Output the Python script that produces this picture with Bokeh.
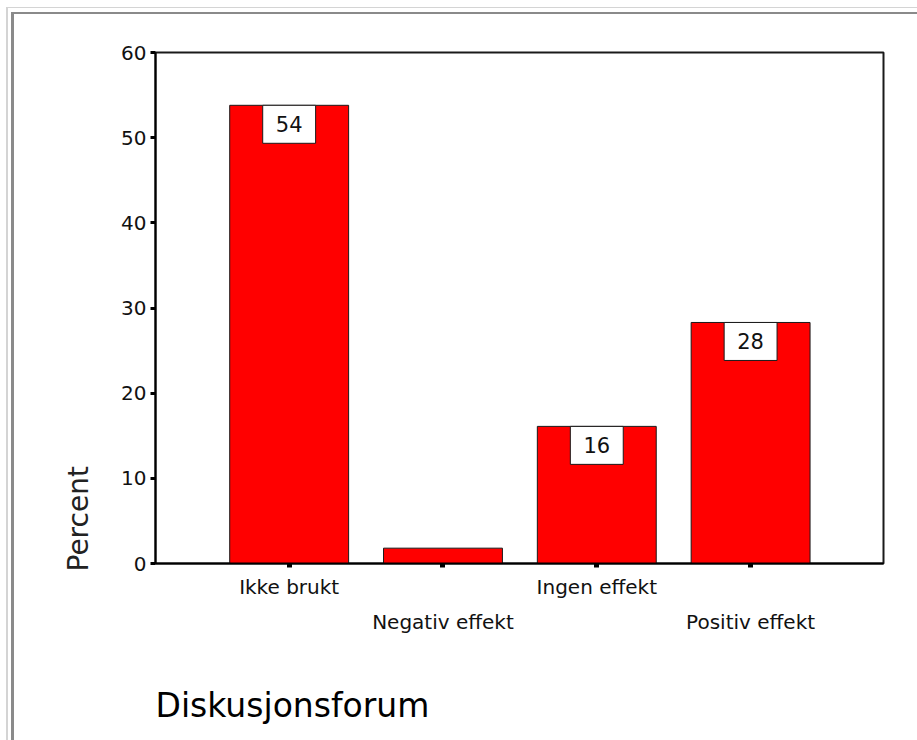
from bokeh.plotting import figure
from bokeh.models import (Range1d, FixedTicker, ColumnDataSource, LinearAxis, Title)
from bokeh.core.properties import value
from bokeh.embed import file_html
from bokeh.resources import INLINE

# ---- data ----
categories = ["Ikke brukt", "Negativ effekt", "Ingen effekt", "Positiv effekt"]
percent = [53.8, 1.8, 16.1, 28.3]
value_labels = ["54", "", "16", "28"]
y_ticks = [0, 10, 20, 30, 40, 50, 60]

positions = list(range(1, len(categories) + 1))

FONT = "DejaVu Sans"
W, H = 917, 740

p = figure(width=W, height=H, output_backend="svg", toolbar_location=None,
           x_range=Range1d(0.131, 4.864), y_range=Range1d(0, 60),
           min_border_left=155, min_border_right=34, min_border_top=52,
           min_border_bottom=177)

p.styles = {
    "background-color": "white",
    "box-shadow": ("inset 6px 7px 0 0 #ffffff, inset 8px 8px 0 0 #d4d4d4, "
                   "inset 11px 12px 0 0 #ffffff, inset 14px 14px 0 0 #8a8a8a"),
}

p.xgrid.visible = False
p.ygrid.visible = False
p.outline_line_color = "#1a1a1a"
p.outline_line_width = 2
p.background_fill_color = "white"
p.border_fill_color = None

# bars
p.vbar(x=positions, top=percent, bottom=0, width=0.773,
       fill_color="#ff0000", line_color="#1a1a1a", line_width=1)

# value label boxes hanging from the bar tops
box_w = 0.344
box_h = 4.46
lab_x = [x for x, t in zip(positions, value_labels) if t]
lab_y = [v - box_h / 2 for v, t in zip(percent, value_labels) if t]
lab_t = [t for t in value_labels if t]
lsrc = ColumnDataSource(dict(x=lab_x, y=lab_y, t=lab_t))
p.rect(x="x", y="y", width=box_w, height=box_h, source=lsrc,
       fill_color="white", line_color="#1a1a1a", line_width=1)
p.text(x="x", y="y", text="t", source=lsrc, text_align="center",
       text_baseline="middle", text_font=value(FONT), text_font_size="21px",
       text_color="#111111")

# y axis
ya = p.yaxis[0]
ya.ticker = FixedTicker(ticks=y_ticks)
ya.major_label_text_font = FONT
ya.major_label_text_font_size = "20px"
ya.major_label_text_color = "#111111"
ya.axis_line_width = 2
ya.axis_line_color = "black"
ya.major_tick_in = 0
ya.major_tick_out = 5
ya.major_tick_line_width = 3
ya.minor_tick_line_color = None
ya.major_label_standoff = 4

# x axis: first row of staggered labels
xa = p.xaxis[0]
xa.ticker = FixedTicker(ticks=positions)
xa.major_label_overrides = {x: (c if i % 2 == 0 else "")
                            for i, (x, c) in enumerate(zip(positions, categories))}
xa.axis_line_width = 2
xa.axis_line_color = "black"
xa.major_tick_in = 0
xa.major_tick_out = 4
xa.major_tick_line_width = 5
xa.minor_tick_line_color = None
xa.major_label_standoff = 7
xa.major_label_text_font = FONT
xa.major_label_text_font_size = "20px"
xa.major_label_text_color = "#111111"

# second row of staggered labels
xa2 = LinearAxis(ticker=FixedTicker(ticks=positions))
xa2.major_label_overrides = {x: (c if i % 2 == 1 else "")
                             for i, (x, c) in enumerate(zip(positions, categories))}
xa2.axis_line_color = None
xa2.major_tick_line_color = None
xa2.minor_tick_line_color = None
xa2.major_tick_out = 0
xa2.major_tick_in = 0
xa2.major_label_standoff = 8
xa2.major_label_text_font = FONT
xa2.major_label_text_font_size = "20px"
xa2.major_label_text_color = "#111111"
p.add_layout(xa2, "below")

# y axis title (placed near the bottom of the axis)
p.add_layout(Title(text="Percent", align="left", offset=-8, text_font=FONT,
                   text_font_size="28px", text_font_style="normal",
                   text_color="#222222", standoff=48), "left")

# spacer between the category labels and the chart title
p.add_layout(Title(text=" ", text_font_size="1px", standoff=42), "below")

# chart title
p.add_layout(Title(text="Diskusjonsforum", align="left", text_font=FONT,
                   text_font_size="33px", text_font_style="normal",
                   text_color="black", standoff=4), "below")

open("out.html", "w").write(file_html(p, INLINE))
